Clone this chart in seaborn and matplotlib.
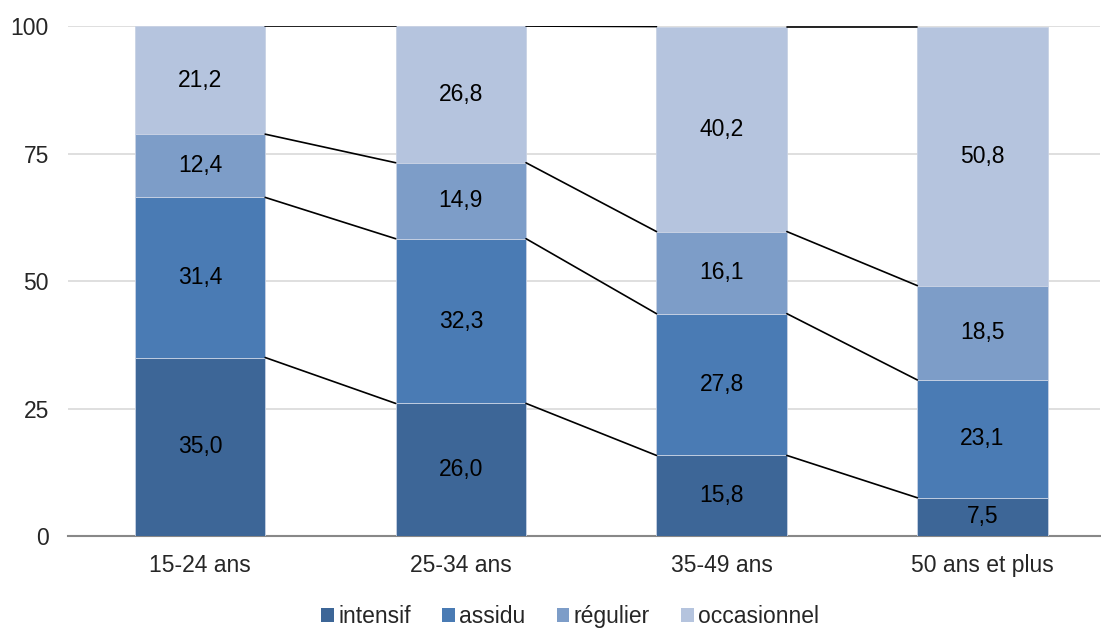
import numpy as np
import pandas as pd
import seaborn as sns
import matplotlib.pyplot as plt
from matplotlib.patches import Patch

categories = ["15-24 ans", "25-34 ans", "35-49 ans", "50 ans et plus"]
series = ["intensif", "assidu", "régulier", "occasionnel"]
intensif = [35.0, 26.0, 15.8, 7.5]
assidu = [31.4, 32.3, 27.8, 23.1]
regulier = [12.4, 14.9, 16.1, 18.5]
occasionnel = [21.2, 26.8, 40.2, 50.8]
colors = ["#3D6697", "#4A7BB4", "#7D9DC8", "#B5C4DE"]

sns.set_style("white")
plt.rcParams['font.family'] = ['Liberation Sans', 'DejaVu Sans']

fig = plt.figure(figsize=(11.01, 6.28), dpi=100)
ax = fig.add_axes([0.062, 0.1465, 0.937, 0.812])

values = [intensif, assidu, regulier, occasionnel]
bottom = np.zeros(len(categories))
tops = []
for name, vals, col in zip(series, values, colors):
    df = pd.DataFrame({"cat": categories, "val": vals})
    sns.barplot(data=df, x="cat", y="val", color=col, saturation=1, bottom=bottom, width=0.5,
                edgecolor="#C8D2E4", linewidth=0.6, ax=ax, zorder=3)
    for i, v in enumerate(vals):
        ax.text(i, bottom[i] + v / 2, f"{v:.1f}".replace(".", ","), ha="center", va="center",
                fontsize=16.5, color="black", zorder=5)
    bottom = bottom + np.array(vals)
    tops.append(bottom.copy())

# lignes de série entre les barres
for t in tops:
    for i in range(len(categories) - 1):
        ax.plot([i + 0.25, i + 0.75], [t[i], t[i + 1]], color="black", lw=1.2, zorder=4)

ax.set_xlim(-0.505, 3.45)
ax.set_ylim(0, 100)
ax.set_yticks([0, 25, 50, 75, 100])
ax.yaxis.grid(True, color="#D9D9D9", lw=1.2, zorder=0)
ax.set_xlabel("")
ax.set_ylabel("")
for s in ["top", "right", "left"]:
    ax.spines[s].set_visible(False)
ax.spines["bottom"].set_color("#888888")
ax.spines["bottom"].set_linewidth(1.5)
ax.tick_params(axis="y", length=0, labelsize=16.5, pad=14)
ax.tick_params(axis="x", length=0, labelsize=16.5, pad=13)

handles = [Patch(facecolor=c, edgecolor="none", label=n) for n, c in zip(series, colors)]
fig.legend(handles=handles, loc="lower center", ncol=4, frameon=False, fontsize=16.5,
           bbox_to_anchor=(0.518, -0.033), handlelength=0.55, handleheight=0.6,
           handletextpad=0.2, columnspacing=1.35)

fig.savefig("out.png", dpi=100)
